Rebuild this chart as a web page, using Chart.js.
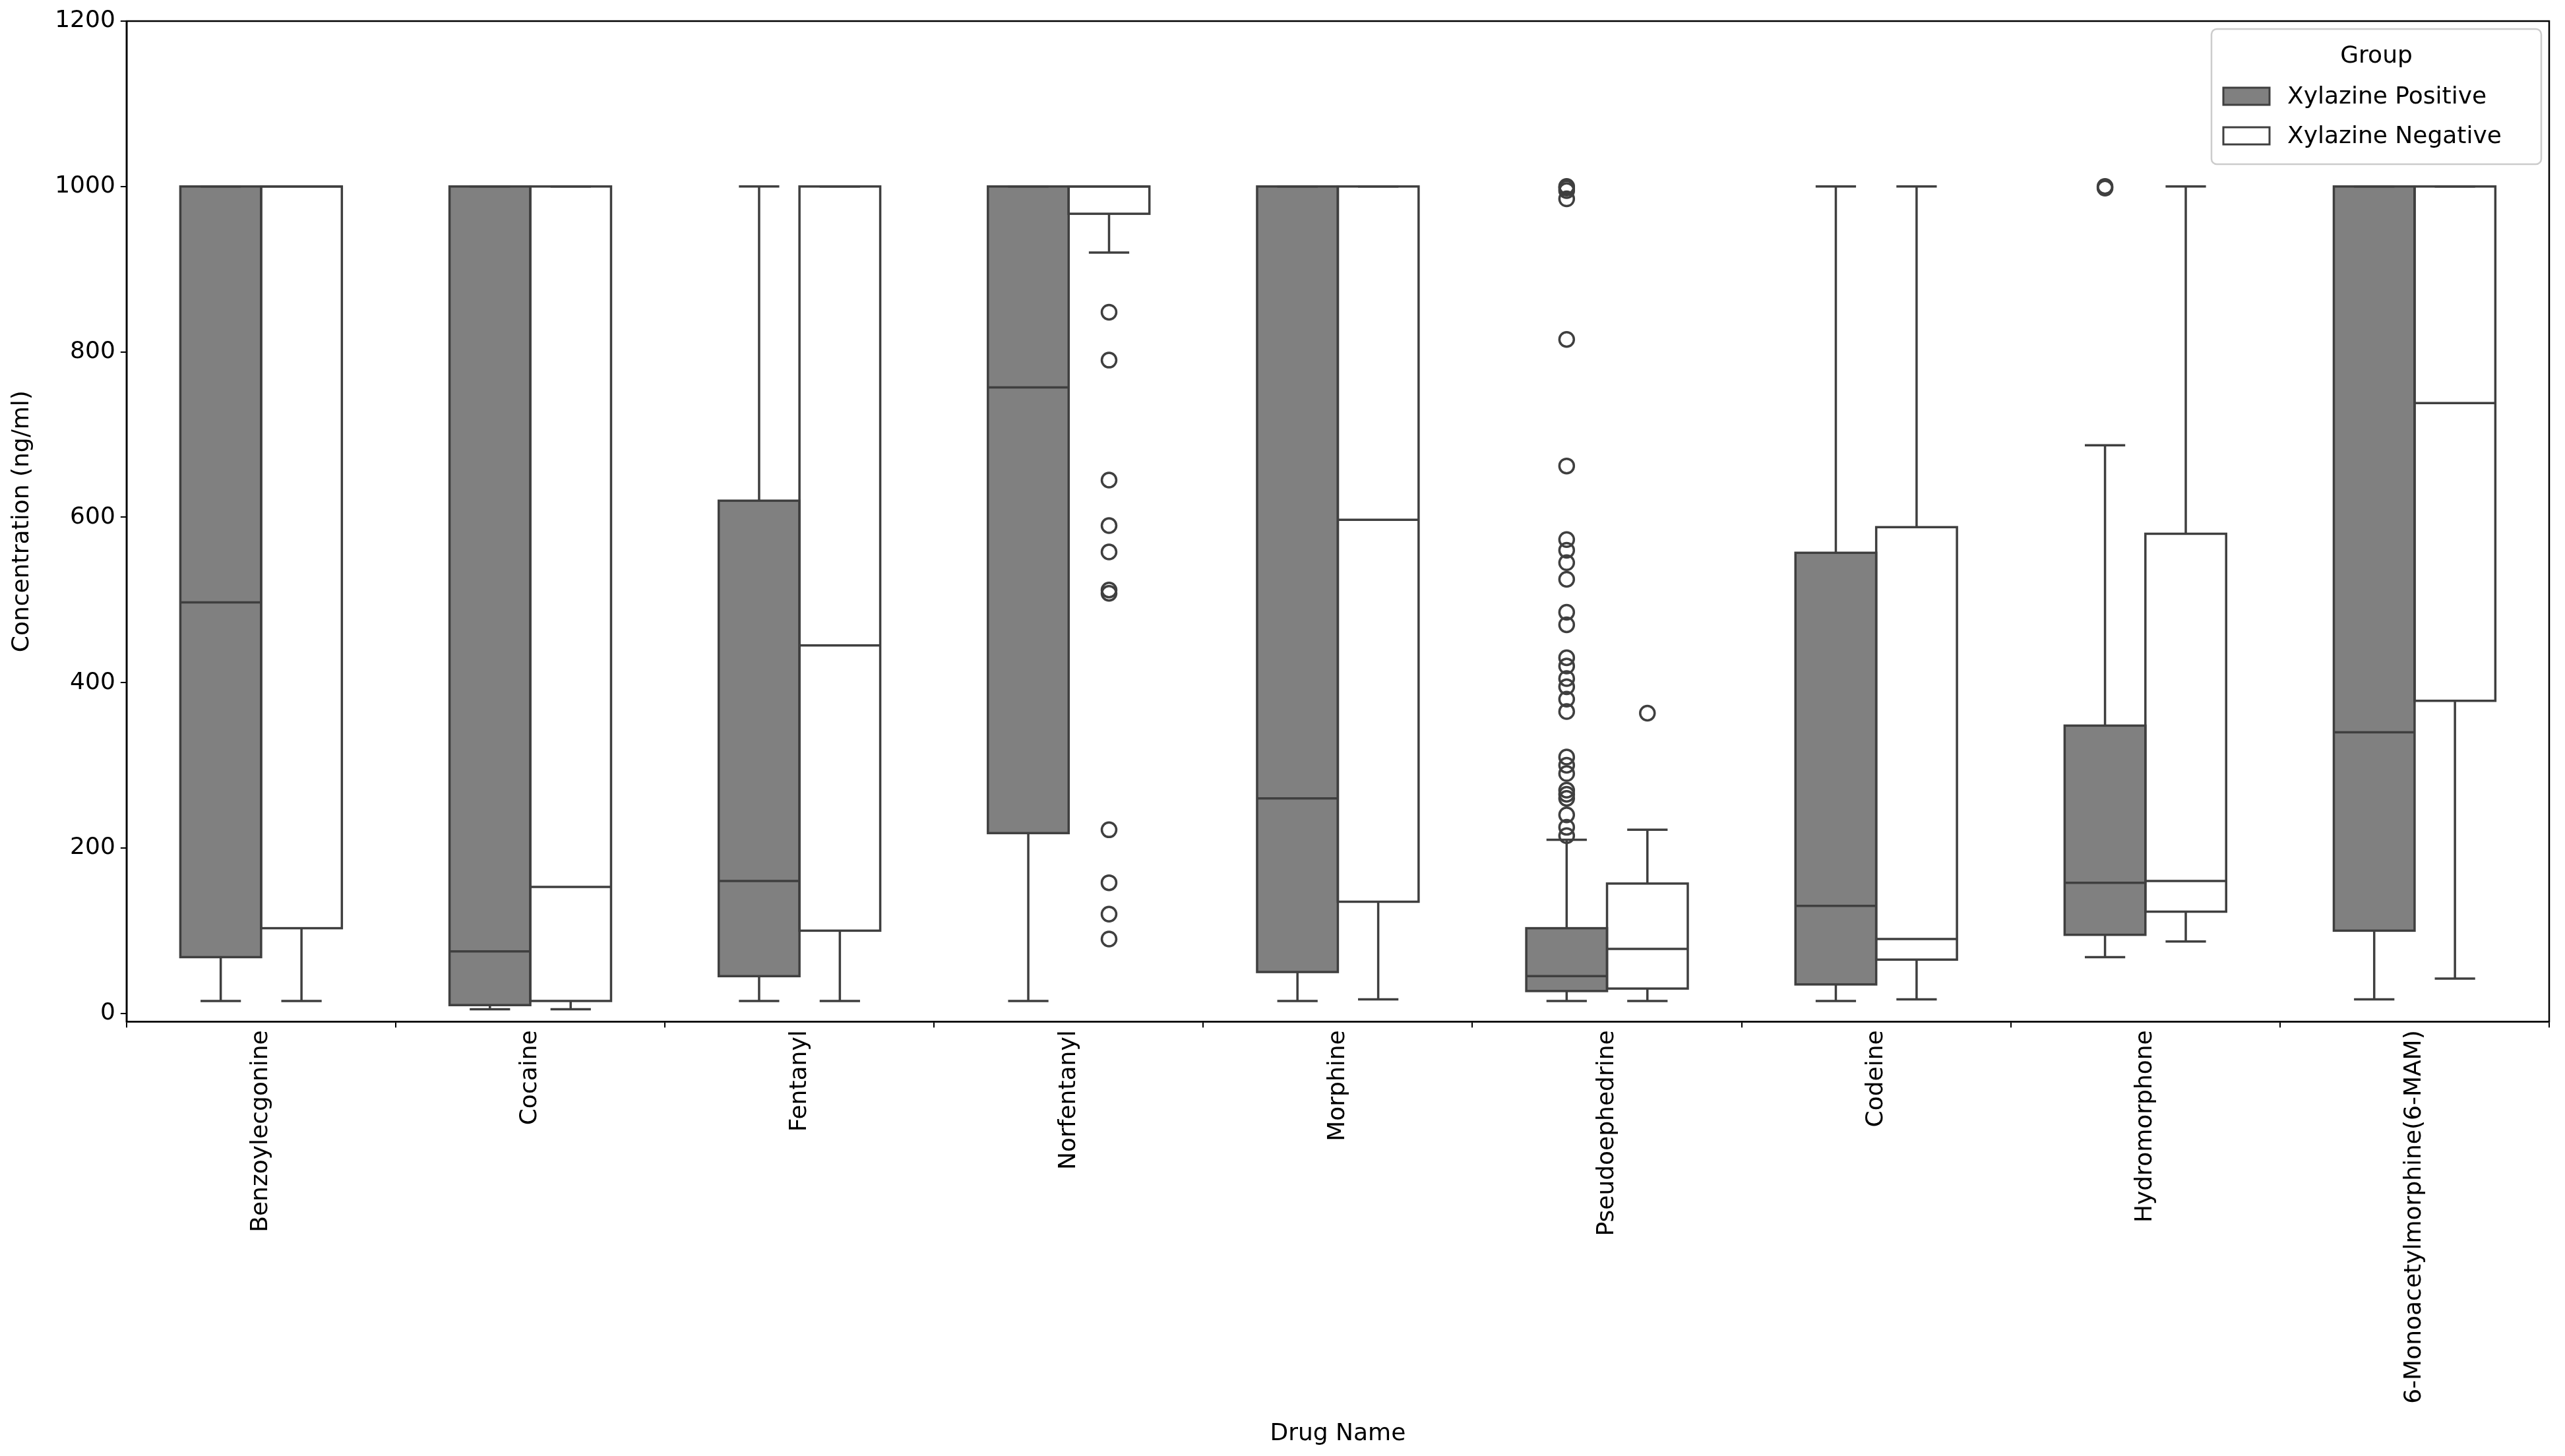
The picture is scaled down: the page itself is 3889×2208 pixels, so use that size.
<!DOCTYPE html>
<html><head><meta charset="utf-8">
<script src="https://cdn.jsdelivr.net/npm/chart.js@4"></script>
<style>html,body{margin:0;padding:0;background:#fff}#wrap{width:3889px;height:2208px}</style>
</head><body><div id="wrap"><canvas id="c" width="3889" height="2208"></canvas></div>
<script>
const categories=["Benzoylecgonine","Cocaine","Fentanyl","Norfentanyl","Morphine","Pseudoephedrine","Codeine","Hydromorphone","6-Monoacetylmorphine(6-MAM)"];
// [whiskerLow, q1, median, q3, whiskerHigh]
const positiveStats=[[15,68,497,1000,1000],[5,10,75,1000,1000],[15,45,160,620,1000],[15,218,757,1000,1000],[15,50,260,1000,1000],[15,27,45,103,210],[15,35,130,557,1000],[68,95,158,348,687],[17,100,340,1000,1000]];
const negativeStats=[[15,103,1000,1000,1000],[5,15,153,1000,1000],[15,100,445,1000,1000],[920,967,1000,1000,1000],[17,135,597,1000,1000],[15,30,78,157,222],[17,65,90,588,1000],[87,123,160,580,1000],[42,378,738,1000,1000]];
const positiveOutliers=[[],[],[],[],[],[1000,998,995,985,815,662,573,560,545,525,485,470,430,420,405,395,380,365,310,300,290,270,265,260,240,225,215],[],[1000,998],[]];
const negativeOutliers=[[],[],[],[848,790,645,590,558,512,508,222,158,120,90],[],[363],[],[],[]];
const yTicks=[0,200,400,600,800,1000,1200];
const seriesNames=["Xylazine Positive","Xylazine Negative"];
const edge='#3f3f3f';
const boxPlugin={id:'box',afterDatasetsDraw(chart){
  const ctx=chart.ctx,y=chart.scales.y;
  const sets=[[positiveStats,positiveOutliers],[negativeStats,negativeOutliers]];
  sets.forEach((s,di)=>{
    const meta=chart.getDatasetMeta(di);
    meta.data.forEach((bar,i)=>{
      const st=s[0][i],x=bar.x,w=bar.width,l=x-w/2,r=x+w/2;
      ctx.save();ctx.strokeStyle=edge;ctx.lineWidth=3.5;
      ctx.beginPath();
      ctx.moveTo(x,y.getPixelForValue(st[1]));ctx.lineTo(x,y.getPixelForValue(st[0]));
      ctx.moveTo(x,y.getPixelForValue(st[3]));ctx.lineTo(x,y.getPixelForValue(st[4]));
      ctx.moveTo(x-w/4,y.getPixelForValue(st[0]));ctx.lineTo(x+w/4,y.getPixelForValue(st[0]));
      ctx.moveTo(x-w/4,y.getPixelForValue(st[4]));ctx.lineTo(x+w/4,y.getPixelForValue(st[4]));
      ctx.moveTo(l,y.getPixelForValue(st[2]));ctx.lineTo(r,y.getPixelForValue(st[2]));
      ctx.stroke();
      ctx.strokeRect(l,y.getPixelForValue(st[3]),w,y.getPixelForValue(st[1])-y.getPixelForValue(st[3]));
      s[1][i].forEach(v=>{ctx.beginPath();ctx.arc(x,y.getPixelForValue(v),11,0,Math.PI*2);ctx.stroke();});
      ctx.restore();
    });
  });
  const a=chart.chartArea;ctx.save();
  const bw=500,bh=205,bx=a.right-bw-12,by=a.top+12;
  ctx.fillStyle='rgba(255,255,255,0.8)';ctx.strokeStyle='#ccc';ctx.lineWidth=2.5;
  ctx.beginPath();ctx.roundRect(bx,by,bw,bh,8);ctx.fill();ctx.stroke();
  ctx.fillStyle='#000';ctx.font='36px "DejaVu Sans"';ctx.textAlign='center';ctx.textBaseline='middle';
  ctx.fillText('Group',bx+bw/2,by+42);
  ctx.textAlign='left';
  seriesNames.forEach((n,k)=>{
    const yy=by+102+k*60;
    ctx.fillStyle=k?'#fff':'#808080';ctx.strokeStyle=edge;ctx.lineWidth=3;
    ctx.fillRect(bx+18,yy-13,70,26);ctx.strokeRect(bx+18,yy-13,70,26);
    ctx.fillStyle='#000';ctx.fillText(n,bx+115,yy+2);
  });
  ctx.restore();
}};
new Chart(document.getElementById('c'),{
  type:'bar',
  data:{labels:categories,datasets:[
    {label:seriesNames[0],data:positiveStats.map(s=>[s[1],s[3]]),backgroundColor:'#808080',borderWidth:0},
    {label:seriesNames[1],data:negativeStats.map(s=>[s[1],s[3]]),backgroundColor:'#ffffff',borderWidth:0}
  ]},
  options:{responsive:false,animation:false,devicePixelRatio:1,
    layout:{padding:{top:32,right:24,left:12,bottom:12}},
    plugins:{legend:{display:false},tooltip:{enabled:false}},
    datasets:{bar:{categoryPercentage:0.6,barPercentage:1}},
    scales:{
      x:{grid:{display:true,drawOnChartArea:false,color:'#000',tickLength:9,lineWidth:2},border:{color:'#000',width:2.5},
        ticks:{color:'#000',font:{size:36,family:'DejaVu Sans'},minRotation:90,maxRotation:90,padding:4},
        title:{display:true,text:'Drug Name',color:'#000',font:{size:36,family:'DejaVu Sans'},padding:{top:20,bottom:0}}},
      y:{min:-10,max:1200,grid:{display:true,drawOnChartArea:false,color:'#000',tickLength:9,lineWidth:2},border:{color:'#000',width:2.5},
        afterBuildTicks(ax){ax.ticks=yTicks.map(v=>({value:v}));},
        ticks:{color:'#000',font:{size:36,family:'DejaVu Sans'},padding:8,callback:v=>String(v)},
        title:{display:true,text:'Concentration (ng/ml)',color:'#000',font:{size:36,family:'DejaVu Sans'},padding:{top:0,bottom:20}}}
    }},
  plugins:[boxPlugin,{id:'frame',afterDraw(c){const a=c.chartArea,x=c.ctx;x.save();x.strokeStyle='#000';x.lineWidth=2.5;x.strokeRect(a.left,a.top,a.right-a.left,a.bottom-a.top);x.restore();}}]
});
</script></body></html>
